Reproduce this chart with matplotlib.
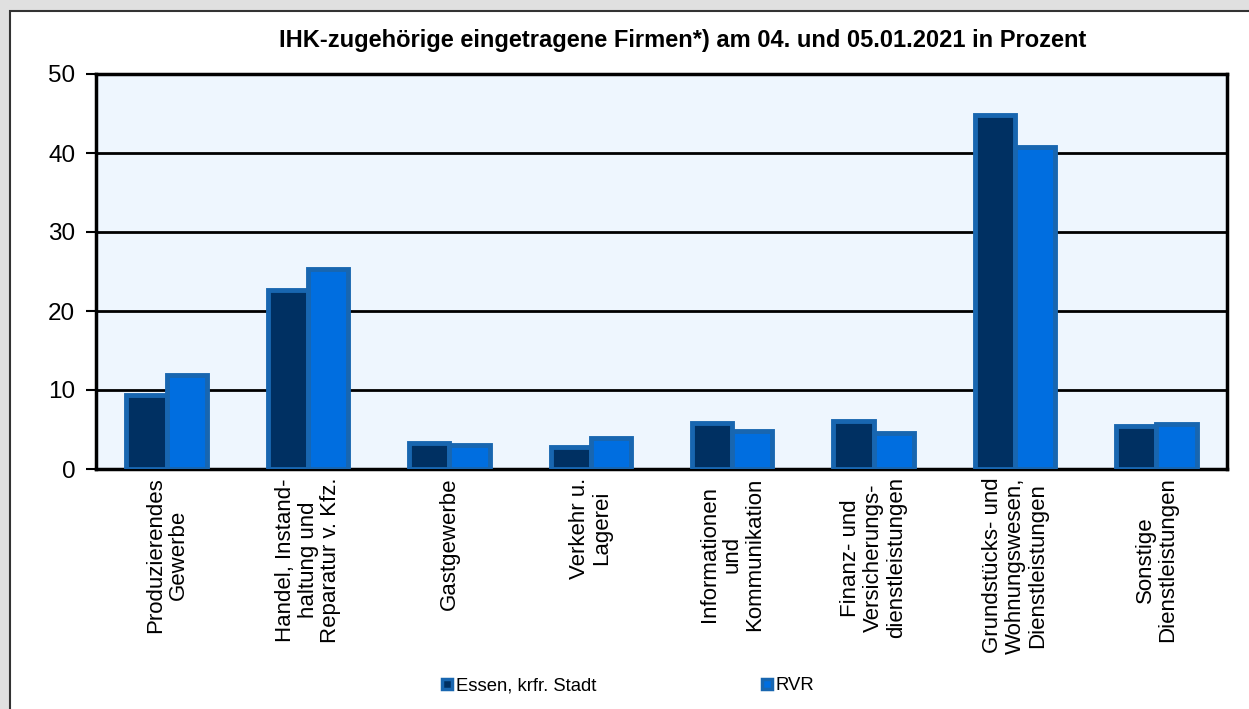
import matplotlib
matplotlib.use("Agg")
import matplotlib.pyplot as plt
from matplotlib.patches import Rectangle
from matplotlib.lines import Line2D
import numpy as np

plt.rcParams['font.family'] = ['Liberation Sans', 'DejaVu Sans']

categories = [
    "Produzierendes\nGewerbe",
    "Handel, Instand-\nhaltung und\nReparatur v. Kfz.",
    "Gastgewerbe",
    "Verkehr u.\nLagerei",
    "Informationen\nund\nKommunikation",
    "Finanz- und\nVersicherungs-\ndienstleistungen",
    "Grundstücks- und\nWohnungswesen,\nDienstleistungen",
    "Sonstige\nDienstleistungen",
]
essen = [9.4, 22.7, 3.3, 2.8, 5.8, 6.1, 44.8, 5.4]
rvr = [11.9, 25.3, 3.0, 3.9, 4.8, 4.6, 40.8, 5.7]
series_names = ["Essen, krfr. Stadt", "RVR"]
yticks = [0, 10, 20, 30, 40, 50]
title = "IHK-zugehörige eingetragene Firmen*) am 04. und 05.01.2021 in Prozent"

W, H = 1249, 709
fig = plt.figure(figsize=(W/100, H/100), dpi=100)
fig.patch.set_facecolor('#e0e0e0')
panel = Rectangle((9.5/W, -0.1), 1.2, 1 - 10.5/H + 0.1,
                  transform=fig.transFigure, facecolor='white',
                  edgecolor='#333333', linewidth=1.5, zorder=-10)
fig.patches.append(panel)

ax = fig.add_axes([96/W, 1 - 469/H, (1227-96)/W, (469-74)/H])
ax.set_zorder(1)
ax.set_facecolor('#eef6fe')

x = np.arange(len(categories))
w = 0.285
edge = '#1866b0'
ax.bar(x - w/2, essen, w, color='#003062', edgecolor=edge, linewidth=3.5, zorder=3)
ax.bar(x + w/2, rvr, w, color='#006ee0', edgecolor=edge, linewidth=3.5, zorder=3)

ax.set_xlim(-0.5, len(categories) - 0.5)
ax.set_ylim(0, 50)
ax.set_yticks(yticks)
ax.set_yticklabels([str(t) for t in yticks], fontsize=17.5)
ax.yaxis.grid(True, color='black', linewidth=2, zorder=1)
ax.set_axisbelow(True)
ax.tick_params(axis='y', length=7, width=1.5, pad=8, color='black')
ax.set_xticks(x)
ax.set_xticklabels(categories, rotation=90, fontsize=16, va='top', ha='center',
                   multialignment='center', linespacing=1.1)
ax.tick_params(axis='x', length=0, pad=6)
for s in ['left', 'right', 'bottom', 'top']:
    ax.spines[s].set_linewidth(2.5)
    ax.spines[s].set_color('black')

fig.text(683/W, 1 - 40/H, title, ha='center', va='center', fontsize=17,
         fontweight='bold')

handles = [
    Line2D([], [], marker='s', linestyle='none', markersize=7,
           markerfacecolor='#003062', markeredgecolor=edge, markeredgewidth=2.5),
    Line2D([], [], marker='s', linestyle='none', markersize=7,
           markerfacecolor='#006ee0', markeredgecolor=edge, markeredgewidth=2.5),
]
fig.legend(handles, series_names, loc='center', bbox_to_anchor=(628/W, 1 - 686/H),
           ncol=2, frameon=False, fontsize=13.3, handlelength=0.6, handletextpad=0.2,
           columnspacing=8.9)

fig.savefig('out.png', dpi=100, facecolor=fig.get_facecolor())
